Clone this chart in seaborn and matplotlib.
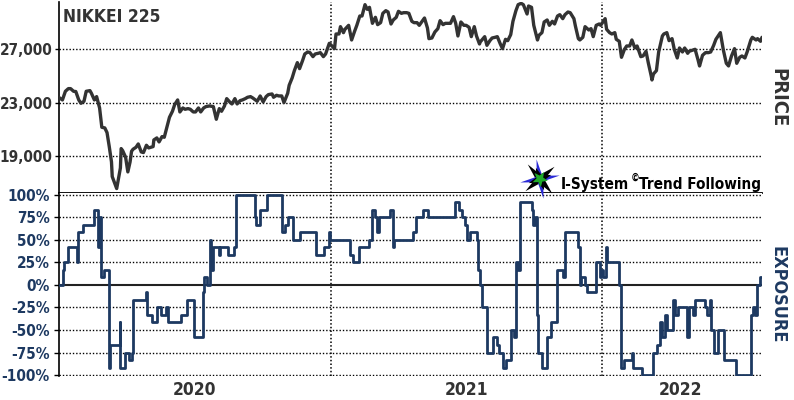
import numpy as np
import pandas as pd
import matplotlib
matplotlib.use("Agg")
import matplotlib.pyplot as plt
import seaborn as sns
from matplotlib import font_manager as fm
from matplotlib.patches import Polygon

# ---------------- data ----------------
price_dates = [
 "2020-01-01","2020-01-06","2020-01-10","2020-01-14","2020-01-17","2020-01-21","2020-01-24","2020-01-28","2020-01-31",
 "2020-02-04","2020-02-07","2020-02-12","2020-02-14","2020-02-18","2020-02-21","2020-02-25","2020-02-28",
 "2020-03-03","2020-03-06","2020-03-09","2020-03-12","2020-03-13","2020-03-16","2020-03-19","2020-03-24","2020-03-25","2020-03-27","2020-03-31",
 "2020-04-03","2020-04-06","2020-04-08","2020-04-10","2020-04-14","2020-04-17","2020-04-21","2020-04-24","2020-04-28",
 "2020-05-01","2020-05-07","2020-05-08","2020-05-12","2020-05-15","2020-05-19","2020-05-22","2020-05-26","2020-05-29",
 "2020-06-02","2020-06-05","2020-06-09","2020-06-12","2020-06-16","2020-06-19","2020-06-23","2020-06-26","2020-06-30",
 "2020-07-03","2020-07-07","2020-07-10","2020-07-14","2020-07-17","2020-07-22","2020-07-27","2020-07-31",
 "2020-08-04","2020-08-07","2020-08-11","2020-08-14","2020-08-18","2020-08-21","2020-08-25","2020-08-28",
 "2020-09-01","2020-09-04","2020-09-08","2020-09-11","2020-09-15","2020-09-18","2020-09-24","2020-09-28",
 "2020-10-02","2020-10-06","2020-10-09","2020-10-14","2020-10-16","2020-10-20","2020-10-23","2020-10-27","2020-10-30",
 "2020-11-04","2020-11-06","2020-11-10","2020-11-13","2020-11-17","2020-11-20","2020-11-24","2020-11-27",
 "2020-12-01","2020-12-04","2020-12-08","2020-12-11","2020-12-15","2020-12-18","2020-12-22","2020-12-25","2020-12-30",
 "2021-01-06","2021-01-08","2021-01-12","2021-01-14","2021-01-18","2021-01-20","2021-01-25","2021-01-29",
 "2021-02-02","2021-02-05","2021-02-09","2021-02-12","2021-02-16","2021-02-19","2021-02-22","2021-02-26",
 "2021-03-02","2021-03-05","2021-03-09","2021-03-12","2021-03-16","2021-03-19","2021-03-23","2021-03-26","2021-03-30",
 "2021-04-02","2021-04-06","2021-04-09","2021-04-13","2021-04-16","2021-04-20","2021-04-23","2021-04-27","2021-04-30",
 "2021-05-07","2021-05-11","2021-05-13","2021-05-17","2021-05-21","2021-05-25","2021-05-28",
 "2021-06-01","2021-06-04","2021-06-08","2021-06-11","2021-06-15","2021-06-18","2021-06-21","2021-06-25","2021-06-29",
 "2021-07-02","2021-07-06","2021-07-09","2021-07-13","2021-07-16","2021-07-20","2021-07-21","2021-07-27","2021-07-30",
 "2021-08-03","2021-08-06","2021-08-10","2021-08-13","2021-08-17","2021-08-20","2021-08-24","2021-08-27","2021-08-31",
 "2021-09-03","2021-09-07","2021-09-10","2021-09-14","2021-09-17","2021-09-22","2021-09-24","2021-09-28",
 "2021-10-01","2021-10-06","2021-10-08","2021-10-12","2021-10-15","2021-10-19","2021-10-22","2021-10-26","2021-10-29",
 "2021-11-02","2021-11-05","2021-11-09","2021-11-12","2021-11-16","2021-11-19","2021-11-24","2021-11-26","2021-11-30",
 "2021-12-02","2021-12-06","2021-12-09","2021-12-14","2021-12-17","2021-12-20","2021-12-24","2021-12-28","2021-12-30",
 "2022-01-05","2022-01-07","2022-01-11","2022-01-14","2022-01-18","2022-01-20","2022-01-24","2022-01-27","2022-01-31",
 "2022-02-03","2022-02-07","2022-02-10","2022-02-14","2022-02-17","2022-02-22","2022-02-25",
 "2022-03-01","2022-03-04","2022-03-08","2022-03-09","2022-03-11","2022-03-15","2022-03-18","2022-03-23","2022-03-25","2022-03-29",
 "2022-04-01","2022-04-05","2022-04-08","2022-04-12","2022-04-15","2022-04-19","2022-04-22","2022-04-26","2022-04-28",
 "2022-05-06","2022-05-10","2022-05-12","2022-05-16","2022-05-20","2022-05-24","2022-05-27","2022-05-31",
 "2022-06-03","2022-06-09","2022-06-13","2022-06-17","2022-06-20","2022-06-24","2022-06-28",
 "2022-07-01","2022-07-05","2022-07-08","2022-07-12","2022-07-15","2022-07-20","2022-07-22","2022-07-27","2022-07-29",
 "2022-08-02","2022-08-04"]
price_values = [
 23400,23200,23850,24050,24050,23850,23830,23200,22950,
 23100,23850,23900,23700,23200,23450,22600,21150,
 21100,20750,19700,18550,17450,17000,16550,18100,19550,19400,18900,
 17800,18550,19350,19500,19650,19900,19300,19250,19800,
 19600,19700,20200,20350,20050,20450,20400,21250,21900,
 22350,22850,23200,22300,22600,22500,22550,22500,22300,
 22300,22600,22300,22600,22700,22750,22700,21750,
 22550,22350,22750,23300,23050,22900,23300,22900,
 23150,23200,23300,23400,23450,23350,23100,23500,
 23050,23450,23600,23650,23400,23550,23500,23500,23000,
 23700,24300,24850,25400,26000,25550,26150,26650,
 26800,26750,26450,26650,26700,26750,26450,26650,27450,
 27050,28150,28150,28700,28250,28500,28800,27700,
 28350,28800,29500,29500,30350,30000,30150,28950,
 29400,28850,29000,29700,29900,29800,28900,29200,29400,
 29850,29700,29750,29750,29700,29100,29000,29000,28800,
 29350,28600,27800,27850,28300,28550,29150,
 28850,28950,28950,28950,29450,28950,28000,29050,28800,
 28800,28650,27950,28700,28000,27400,27550,27950,27300,
 27650,27850,27900,27950,27400,27050,27750,27650,28100,
 29100,29900,30350,30450,30350,29650,30250,30150,
 28800,27700,28050,28250,29050,29200,28800,29100,28900,
 29500,29600,29300,29600,29800,29750,29300,28750,27800,
 27700,27900,28700,28450,28550,27950,28800,28900,28800,
 29300,28500,28250,28150,28250,27750,27600,26400,27000,
 27250,27250,27700,27100,27250,26450,26500,
 26850,26000,25000,24700,25150,25400,26800,28000,28150,28250,
 27650,27800,27000,26350,27100,26800,27100,26700,26850,
 27000,26200,25750,26550,26750,26750,26800,27300,
 27750,28250,26950,25950,25750,26500,27050,
 25950,26400,26500,26350,26800,27700,27900,27700,27800,
 27600,27900]

exposure_dates = [
 "2020-01-01","2020-01-07","2020-01-08","2020-01-14","2020-01-26","2020-01-27","2020-02-03","2020-02-17","2020-02-23","2020-02-26",
 "2020-02-27","2020-03-02","2020-03-09","2020-03-10","2020-03-23","2020-03-24","2020-03-30","2020-04-04","2020-04-08","2020-04-10",
 "2020-04-27","2020-04-29","2020-05-05","2020-05-12","2020-05-18","2020-05-25","2020-05-27","2020-06-14","2020-06-21","2020-07-01",
 "2020-07-13","2020-07-14","2020-07-18","2020-07-22","2020-07-24","2020-07-27","2020-08-03","2020-08-05","2020-08-16","2020-08-24",
 "2020-08-26","2020-09-21","2020-09-23","2020-09-28","2020-10-07","2020-10-28","2020-10-31","2020-11-05","2020-11-11","2020-11-21",
 "2020-12-12","2020-12-23","2020-12-29","2020-12-31",
 "2021-01-27","2021-01-31","2021-02-08","2021-02-22","2021-02-25","2021-03-01","2021-03-04","2021-03-07","2021-03-21","2021-03-25",
 "2021-03-27","2021-04-22","2021-04-25","2021-05-05","2021-05-12","2021-06-17","2021-06-23","2021-06-27","2021-06-30","2021-07-03",
 "2021-07-07","2021-07-17","2021-07-18","2021-07-21","2021-07-23","2021-07-30","2021-08-07","2021-08-12","2021-08-15","2021-08-20",
 "2021-08-25","2021-08-31","2021-09-04","2021-09-07","2021-09-10","2021-09-13","2021-09-28","2021-09-30","2021-10-02","2021-10-05",
 "2021-10-07","2021-10-12","2021-10-19","2021-10-24","2021-11-01","2021-11-10","2021-11-12","2021-11-30","2021-12-02","2021-12-04",
 "2021-12-09","2021-12-12","2021-12-24","2021-12-29","2021-12-31",
 "2022-01-02","2022-01-06","2022-01-08","2022-01-23","2022-01-26","2022-01-30","2022-02-10","2022-02-12","2022-02-23","2022-03-11",
 "2022-03-16","2022-03-20","2022-03-23","2022-03-26","2022-03-29","2022-04-06","2022-04-09","2022-04-13","2022-04-25","2022-04-28",
 "2022-05-03","2022-05-06","2022-05-19","2022-05-22","2022-05-26","2022-05-27","2022-06-01","2022-06-06","2022-06-14","2022-06-30",
 "2022-07-20","2022-07-23","2022-07-25","2022-07-28","2022-08-01","2022-08-04"]
exposure_pct = [
 0, 16.7, 25, 41.7, 25, 58.3, 66.7, 83.3, 41.7, 75,
 8.3, 16.7, -91.7, -66.7, -41.7, -91.7, -75, -83.3, -75, -16.7,
 -8.3, -33.3, -41.7, -25, -33.3, -25, -41.7, -33.3, -16.7, -58.3,
 -8.3, 8.3, 0, 50, 16.7, 41.7, 33.3, 41.7, 33.3, 41.7,
 100, 75, 66.7, 83.3, 100, 58.3, 66.7, 75, 50, 58.3,
 33.3, 41.7, 58.3, 50,
 33.3, 25, 41.7, 50, 83.3, 75, 58.3, 75, 83.3, 41.7,
 50, 58.3, 75, 83.3, 75, 91.7, 83.3, 75, 66.7, 50,
 58.3, 50, 16.7, 0, -25, -75, -58.3, -66.7, -75, -91.7,
 -83.3, -50, -58.3, 25, 16.7, 91.7, 83.3, 66.7, 75, -33.3,
 -75, -91.7, -58.3, -41.7, 16.7, 8.3, 58.3, 41.7, 0, 8.3,
 0, -8.3, 25, 8.3, 16.7,
 8.3, 41.7, 25, 0, -91.7, -83.3, -75, -91.7, -100, -75,
 -66.7, -41.7, -58.3, -33.3, -50, -16.7, -33.3, -25, -58.3, -25,
 -33.3, -16.7, -25, -33.3, -16.7, -50, -75, -50, -83.3, -100,
 -33.3, -25, -33.3, 0, 8.3, 8.3]

price_ticks = [19000, 23000, 27000]
price_tick_labels = ["19,000", "23,000", "27,000"]
exposure_ticks = [-100, -75, -50, -25, 0, 25, 50, 75, 100]
exposure_tick_labels = ["-100%", "-75%", "-50%", "-25%", "0%", "25%", "50%", "75%", "100%"]
year_starts = ["2021-01-01", "2022-01-01"]
year_label_pos = ["2020-07-01", "2021-07-03", "2022-04-17"]
year_labels = ["2020", "2021", "2022"]

# ---------------- style ----------------
sns.set_style("white")
plt.rcParams["font.family"] = ["DejaVu Sans"]
plt.rcParams["font.stretch"] = "condensed"
plt.rcParams["font.weight"] = "bold"

GREY = "#333333"
NAVY = "#1d3961"
DOT = (0, (1, 1.4))

def cfont(size):
    return fm.FontProperties(family="DejaVu Sans", weight="bold",
                             stretch="condensed", size=size)

W, H = 794, 400
fig = plt.figure(figsize=(W / 100, H / 100), dpi=100)
fig.patch.set_facecolor("white")

def fx(px):
    return px / W

def fy(py):
    return 1 - py / H

L, R = 58.7, 762.0
ax1 = fig.add_axes([fx(L), fy(192.7), fx(R - L), (192.7 - 2) / H])
ax2 = fig.add_axes([fx(L), fy(376.0), fx(R - L), (376.0 - 192.7) / H], sharex=ax1)

pdf = pd.DataFrame({"date": pd.to_datetime(price_dates), "price": price_values})
edf = pd.DataFrame({"date": pd.to_datetime(exposure_dates), "exposure": exposure_pct})

sns.lineplot(data=pdf, x="date", y="price", ax=ax1, color=GREY, lw=2.4, zorder=3)
sns.lineplot(data=edf, x="date", y="exposure", ax=ax2, color=NAVY, lw=2.0,
             drawstyle="steps-post", zorder=3)

x0, x1 = pd.Timestamp("2020-01-01"), pd.Timestamp("2022-08-04")
ax1.set_xlim(x0, x1)
ax1.set_ylim(16240, 30550)
ax2.set_ylim(-101, 102)

for ax in (ax1, ax2):
    ax.set_xlabel("")
    ax.set_ylabel("")
    ax.grid(False)
    for s in ("top", "right"):
        ax.spines[s].set_visible(False)
    ax.spines["left"].set_color("black")
    ax.spines["left"].set_linewidth(1.2)
    for ys in year_starts:
        ax.axvline(pd.Timestamp(ys), color="black", lw=1.1, ls=DOT, zorder=2)

ax1.spines["bottom"].set_color("black")
ax1.spines["bottom"].set_linewidth(1.3)
ax2.spines["bottom"].set_visible(False)

# price axis
ax1.set_yticks(price_ticks)
ax1.set_yticklabels(price_tick_labels)
for lab in ax1.get_yticklabels():
    lab.set_fontproperties(cfont(11))
    lab.set_color(GREY)
ax1.tick_params(axis="y", length=3, width=1, color="black", pad=1.5, left=True)
ax1.tick_params(axis="x", bottom=False, labelbottom=False)
for t in price_ticks:
    ax1.axhline(t, color="black", lw=1.0, ls=DOT, zorder=1)

# exposure axis
ax2.set_yticks(exposure_ticks)
ax2.set_yticklabels(exposure_tick_labels)
for lab in ax2.get_yticklabels():
    lab.set_fontproperties(cfont(11))
    lab.set_color(NAVY)
ax2.tick_params(axis="y", length=3.5, width=1, color="black", pad=3, left=True)
for t in exposure_ticks:
    if t != 0:
        ax2.axhline(t, color="black", lw=1.0, ls=DOT, zorder=1)
ax2.axhline(0, color="#222222", lw=1.5, zorder=2)

ax2.set_xticks(pd.to_datetime(year_label_pos))
ax2.set_xticklabels(year_labels)
for lab in ax2.get_xticklabels():
    lab.set_fontproperties(cfont(12.5))
    lab.set_color(GREY)
ax2.tick_params(axis="x", length=0, pad=3.5)
ax2.set_xlim(x0, x1)

# texts
fig.text(fx(63), fy(22), "NIKKEI 225", fontproperties=cfont(12.5),
         color=GREY, ha="left", va="baseline")
fig.text(fx(778), fy(97.5), "PRICE", fontproperties=cfont(14.5), color=GREY,
         rotation=270, ha="center", va="center")
fig.text(fx(778), fy(295), "EXPOSURE", fontproperties=cfont(13),
         color=NAVY, rotation=270, ha="center", va="center")

# logo text
fig.text(fx(761), fy(189.5), "Trend Following", fontproperties=cfont(11),
         color="black", ha="right", va="baseline", zorder=6)
fig.text(fx(631), fy(180.5), "\u00a9", fontproperties=cfont(7),
         color="black", ha="left", va="baseline", zorder=6)
fig.text(fx(629), fy(189.5), "I-System", fontproperties=cfont(11),
         color="black", ha="right", va="baseline", zorder=6)

# logo star
lax = fig.add_axes([fx(513), fy(202), fx(52), 46 / H])
lax.set_xlim(513, 565)
lax.set_ylim(202, 156)
lax.axis("off")
lax.patch.set_alpha(0)

def star(cx, cy, r_out, r_in, n, rot_deg):
    ang = np.deg2rad(rot_deg) + np.arange(2 * n) * np.pi / n
    rad = np.where(np.arange(2 * n) % 2 == 0, r_out, r_in)
    return np.column_stack([cx + rad * np.cos(ang), cy - rad * np.sin(ang)])

cx, cy = 540, 179
lax.add_patch(Polygon(star(cx, cy, 19, 4.5, 4, 40), closed=True, fc="black", ec="none"))
lax.add_patch(Polygon(star(cx, cy, 20, 4.0, 4, 100), closed=True, fc="#2a2ad6", ec="none"))
lax.add_patch(Polygon(star(cx, cy, 12, 4.0, 4, 20), closed=True, fc="black", ec="none"))
lax.add_patch(Polygon(star(cx, cy, 8, 3.5, 5, 60), closed=True, fc="#1faa2a", ec="none"))

fig.savefig("out.png", dpi=100, facecolor="white")
